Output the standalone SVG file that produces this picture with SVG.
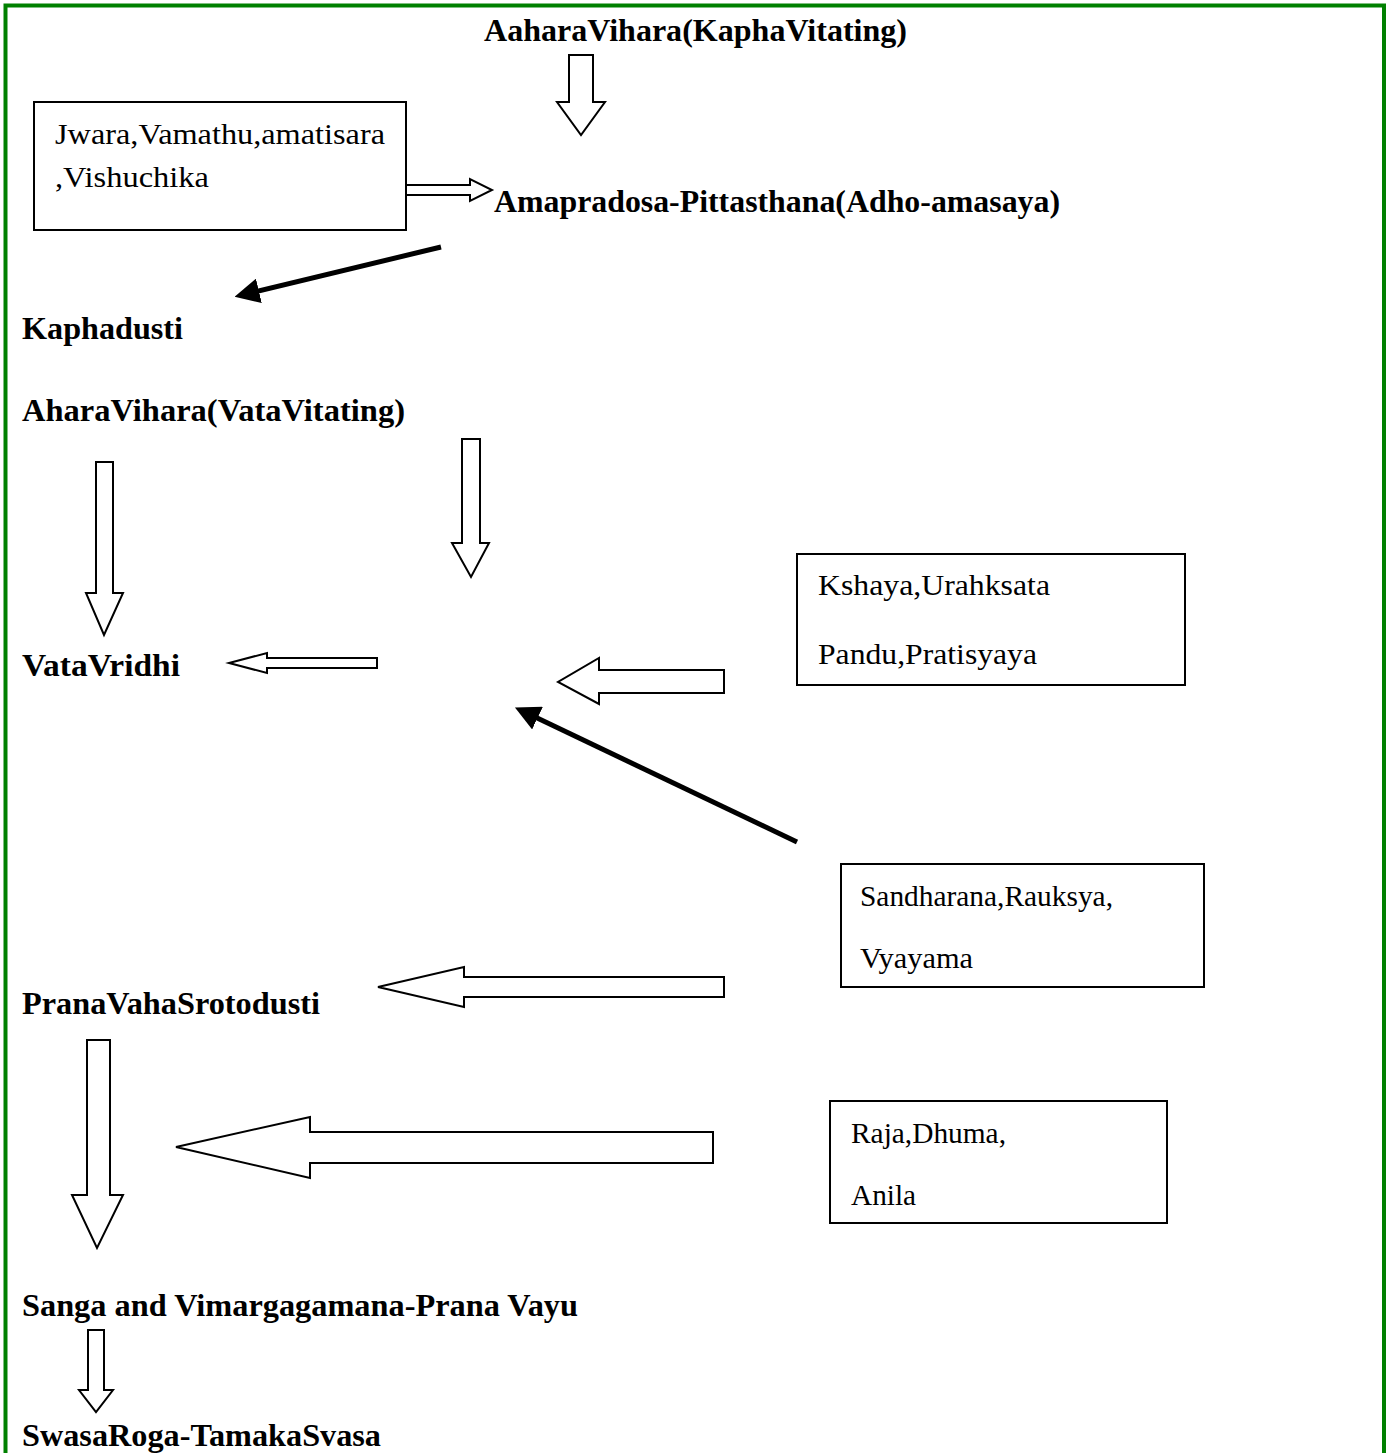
<svg xmlns="http://www.w3.org/2000/svg" width="1389" height="1453" viewBox="0 0 1389 1453">
<style>
.b{font-family:"Liberation Serif","Times New Roman",serif;font-weight:bold;font-size:31px;fill:#000}
.r{font-family:"Liberation Serif","Times New Roman",serif;font-size:29px;fill:#000}
.box{fill:#fff;stroke:#000;stroke-width:2}
.blk{fill:#fff;stroke:#000;stroke-width:2;stroke-linejoin:miter}
.thick{stroke:#000;stroke-width:5;fill:none}
</style>
<defs>
<marker id="ah" markerWidth="5" markerHeight="5" refX="1" refY="2.5" orient="auto" markerUnits="strokeWidth">
<path d="M0,0 L5,2.5 L0,5 Z" fill="#000"/>
</marker>
</defs>
<rect x="0" y="0" width="1389" height="1453" fill="#fff"/>
<path d="M5.5,1453 V5.5 H1384 V1453" fill="none" stroke="#008000" stroke-width="4"/>

<g id="n-aahara-kapha"><text class="b" x="484" y="41" textLength="423" lengthAdjust="spacingAndGlyphs">AaharaVihara(KaphaVitating)</text></g>
<g id="n-jwara"><rect class="box" x="34" y="102" width="372" height="128"/>
<text class="r" x="55" y="144" textLength="330" lengthAdjust="spacingAndGlyphs">Jwara,Vamathu,amatisara</text>
<text class="r" x="55" y="187" textLength="154" lengthAdjust="spacingAndGlyphs">,Vishuchika</text></g>
<g id="n-amapradosa"><text class="b" x="494" y="212" textLength="566" lengthAdjust="spacingAndGlyphs">Amapradosa-Pittasthana(Adho-amasaya)</text></g>
<g id="n-kaphadusti"><text class="b" x="22" y="339" textLength="161" lengthAdjust="spacingAndGlyphs">Kaphadusti</text></g>
<g id="n-ahara-vata"><text class="b" x="22" y="421" textLength="383" lengthAdjust="spacingAndGlyphs">AharaVihara(VataVitating)</text></g>
<g id="n-vatavridhi"><text class="b" x="22" y="676" textLength="158" lengthAdjust="spacingAndGlyphs">VataVridhi</text></g>
<g id="n-kshaya"><rect class="box" x="797" y="554" width="388" height="131"/>
<text class="r" x="818" y="595" textLength="232" lengthAdjust="spacingAndGlyphs">Kshaya,Urahksata</text>
<text class="r" x="818" y="664" textLength="219" lengthAdjust="spacingAndGlyphs">Pandu,Pratisyaya</text></g>
<g id="n-sandharana"><rect class="box" x="841" y="864" width="363" height="123"/>
<text class="r" x="860" y="906" textLength="253" lengthAdjust="spacingAndGlyphs">Sandharana,Rauksya,</text>
<text class="r" x="860" y="968" textLength="113" lengthAdjust="spacingAndGlyphs">Vyayama</text></g>
<g id="n-pranavaha"><text class="b" x="22" y="1014" textLength="298" lengthAdjust="spacingAndGlyphs">PranaVahaSrotodusti</text></g>
<g id="n-raja"><rect class="box" x="830" y="1101" width="337" height="122"/>
<text class="r" x="851" y="1143" textLength="155" lengthAdjust="spacingAndGlyphs">Raja,Dhuma,</text>
<text class="r" x="851" y="1205" textLength="65" lengthAdjust="spacingAndGlyphs">Anila</text></g>
<g id="n-sanga"><text class="b" x="22" y="1316" textLength="556" lengthAdjust="spacingAndGlyphs">Sanga and Vimargagamana-Prana Vayu</text></g>
<g id="n-swasa"><text class="b" x="22" y="1446" textLength="359" lengthAdjust="spacingAndGlyphs">SwasaRoga-TamakaSvasa</text></g>

<g id="connectors">
<polygon class="blk" points="569,55 593,55 593,102 605,102 581,135 557,102 569,102"/>
<polygon class="blk" points="406,185 470,185 470,179 492,190 470,201 470,195 406,195"/>
<line class="thick" x1="441" y1="247" x2="254" y2="292" marker-end="url(#ah)"/>
<polygon class="blk" points="96,462 113,462 113,593 123,593 104,635 86,593 96,593"/>
<polygon class="blk" points="462,439 480,439 480,543 489,543 471,577 452,543 462,543"/>
<polygon class="blk" points="377,658 377,668 267,668 267,673 229,663 267,653 267,658"/>
<polygon class="blk" points="724,670 724,693 599,693 599,704 558,682 599,658 599,670"/>
<line class="thick" x1="797" y1="842" x2="533" y2="716" marker-end="url(#ah)"/>
<polygon class="blk" points="724,977 724,997 464,997 464,1007 378,987 464,967 464,977"/>
<polygon class="blk" points="87,1040 110,1040 110,1195 123,1195 97,1248 72,1195 87,1195"/>
<polygon class="blk" points="713,1132 713,1163 310,1163 310,1178 176,1147 310,1117 310,1132"/>
<polygon class="blk" points="88,1330 104,1330 104,1390 113,1390 96,1412 79,1390 88,1390"/>
</g>
</svg>
